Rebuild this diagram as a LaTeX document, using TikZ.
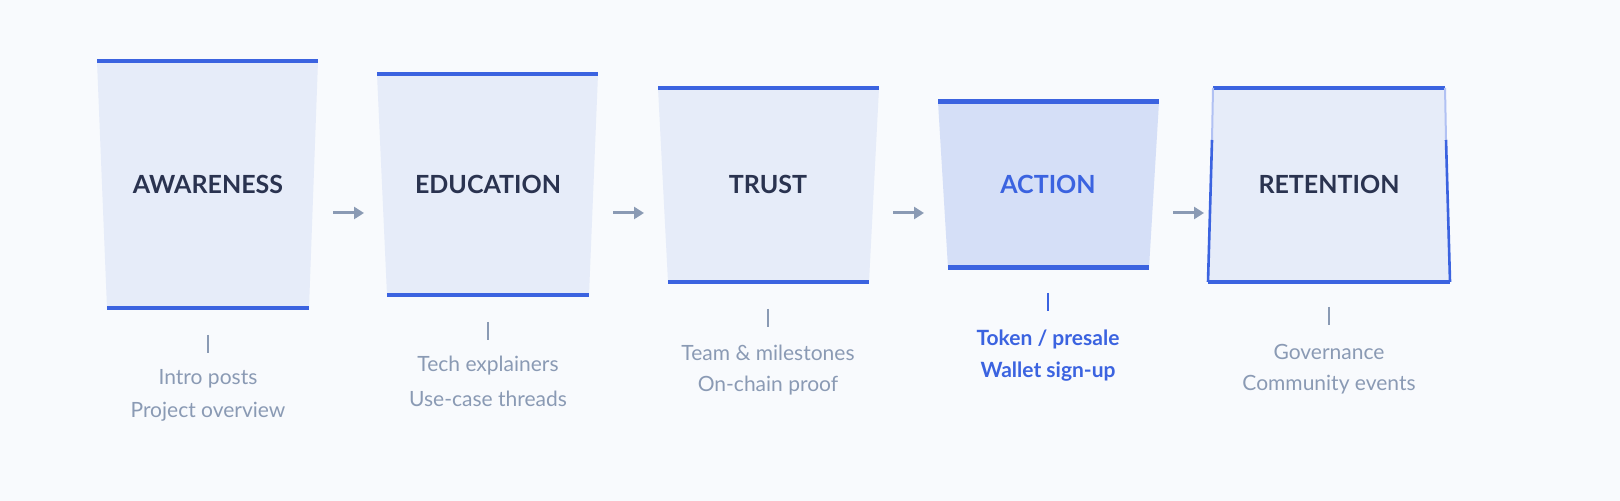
\documentclass[tikz,border=0pt]{standalone}
\usepackage{fontspec}
\setmainfont{Lato}
\usetikzlibrary{arrows.meta}
\definecolor{funnelblue}{HTML}{3B63E0}
\definecolor{funnelfill}{HTML}{E6ECF9}
\definecolor{actionfill}{HTML}{D5DFF7}
\definecolor{pagebg}{HTML}{F8FAFD}
\definecolor{titledark}{HTML}{2A3350}
\definecolor{notegray}{HTML}{8A9AB4}
\begin{document}
\begin{tikzpicture}[x=0.5pt, y=-0.5pt,
        >={Triangle[length=5pt,width=6pt]},
        edge/.style={funnelblue, line width=2pt},
        title/.style={font=\bfseries\fontsize{12.5}{14}\selectfont, text=titledark},
        note/.style={font=\fontsize{10.5}{12}\selectfont, text=notegray},
        tick/.style={notegray, line width=0.8pt},
        flow/.style={->, notegray, line width=1.5pt}]

        % Background
        \fill[pagebg] (0,0) rectangle (1620,501);
        \useasboundingbox (0,0) rectangle (1620,501);

        % Stages: top y, top x, bottom y, bottom x, center x, name, text
        \foreach \ty/\tl/\tr/\by/\bl/\br/\cx/\nm/\txt/\la/\lb in {
            61/97/318/308/107/309/208/aw/AWARENESS/Intro posts/Project overview,
            74/377/598/295/387/589/488/ed/EDUCATION/Tech explainers/Use-case threads,
            88/658/879/282/668/869/768/tr/TRUST/Team \& milestones/On-chain proof} {
          \fill[funnelfill] (\tl,\ty) -- (\tr,\ty) -- (\br,\by) -- (\bl,\by) -- cycle;
          \draw[edge] (\tl,\ty) -- (\tr,\ty);
          \draw[edge] (\bl,\by) -- (\br,\by);
          \node[title] (\nm) at (\cx,184) {\txt};
          \coordinate (\nm-t1) at (\cx,\by+27);
          \coordinate (\nm-t2) at (\cx,\by+45);
          \draw[tick] (\nm-t1) -- (\nm-t2);
          \node[note] (\nm-a) at (\cx,\by+71) {\la};
          \node[note] (\nm-b) at (\cx,\by+104) {\lb};
        }

        % Action stage (highlighted)
        \fill[actionfill] (938,102) -- (1159,102) -- (1149,268) -- (948,268) -- cycle;
        \draw[edge, line width=2.5pt] (938,102) -- (1159,102);
        \draw[edge, line width=2.5pt] (948,268) -- (1149,268);
        \node[title, text=funnelblue] (ac) at (1048,184) {ACTION};
        \coordinate (ac-t1) at (1048,293);
        \coordinate (ac-t2) at (1048,311);
        \draw[funnelblue, line width=1pt] (ac-t1) -- (ac-t2);
        \node[note, text=funnelblue, font=\bfseries\fontsize{10.5}{12}\selectfont] (ac-a) at (1048,339) {Token / presale};
        \node[note, text=funnelblue, font=\bfseries\fontsize{10.5}{12}\selectfont] (ac-b) at (1048,372) {Wallet sign-up};

        % Retention stage (widens)
        \fill[funnelfill] (1213,88) -- (1445,88) -- (1450,282) -- (1208,282) -- cycle;
        \draw[edge] (1213,88) -- (1445,88);
        \draw[edge] (1208,282) -- (1450,282);
        \draw[funnelblue!40, line width=1pt] (1213,88) -- (1212,140);
        \draw[funnelblue!40, line width=1pt] (1445,88) -- (1446,140);
        \draw[funnelblue, line width=1.3pt] (1212,140) -- (1208,282);
        \draw[funnelblue, line width=1.3pt] (1446,140) -- (1450,282);
        \node[title] (re) at (1329,184) {RETENTION};
        \coordinate (re-t1) at (1329,307);
        \coordinate (re-t2) at (1329,325);
        \draw[tick] (re-t1) -- (re-t2);
        \node[note] (re-a) at (1329,352) {Governance};
        \node[note] (re-b) at (1329,385) {Community events};

        % Arrows between stages
        \foreach \ax in {333,613,893,1173} {
          \coordinate (f\ax) at (\ax,213);
          \coordinate (g\ax) at (\ax+31,213);
          \draw[flow] (f\ax) -- (g\ax);
        }
\end{tikzpicture}
\end{document}
